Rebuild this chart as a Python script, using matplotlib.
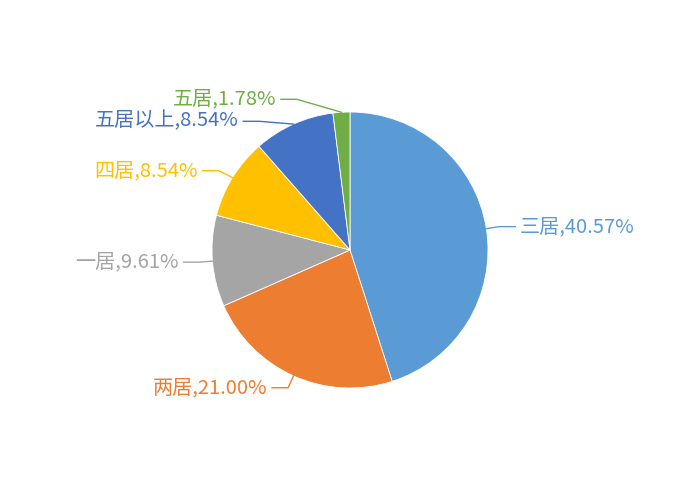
import numpy as np
import matplotlib
matplotlib.use('Agg')
import matplotlib.pyplot as plt

plt.rcParams['font.family'] = ['Noto Sans CJK SC', 'DejaVu Sans']

labels = ['三居', '两居', '一居', '四居', '五居以上', '五居']
values = [40.57, 21.00, 9.61, 8.54, 8.54, 1.78]
colors = ['#5B9BD5', '#ED7D31', '#A5A5A5', '#FFC000', '#4472C4', '#70AD47']

# geometry in pixels (figure is 700x500, axes fill it)
cx, cy = 350, 250
r = 138
len1, len2 = 13, 16
gap = 22

fig = plt.figure(figsize=(7, 5), dpi=100)
ax = fig.add_axes([0, 0, 1, 1])
wedges, _ = ax.pie(values, colors=colors, startangle=90, counterclock=False,
                   center=(cx, cy), radius=r,
                   wedgeprops=dict(edgecolor='white', linewidth=0.6))
ax.set_xlim(0, 700)
ax.set_ylim(0, 500)
ax.set_aspect('equal')
ax.axis('off')

# label layout, roughly like echarts' outside labels
items = []
for w, lab, val, col in zip(wedges, labels, values, colors):
    a = np.deg2rad((w.theta1 + w.theta2) / 2)
    ca, sa = np.cos(a), np.sin(a)
    items.append(dict(text='%s,%.2f%%' % (lab, val), col=col,
                      ex=cx + r * ca, ey=cy + r * sa,
                      bx=cx + (r + len1) * ca, by=cy + (r + len1) * sa,
                      side=1 if ca >= 0 else -1))

rA = r + len1
rB = rA + 10
for side in (1, -1):
    group = sorted([it for it in items if it['side'] == side], key=lambda it: -it['by'])
    shifted = {True: False, False: False}
    for i in range(1, len(group)):
        lim = group[i - 1]['by'] - gap
        if group[i]['by'] > lim:
            group[i]['by'] = lim
            shifted[group[i]['by'] > cy] = True
    for top in (True, False):
        if not shifted[top]:
            continue
        for it in group:
            if (it['by'] > cy) == top:
                dy = abs(it['by'] - cy)
                dx = rA * np.sqrt(max(0.0, 1 - dy * dy / (rB * rB)))
                it['bx'] = cx + side * dx

for it in items:
    s = it['side']
    hx = it['bx'] + s * len2
    ax.plot([it['ex'], it['bx'], hx], [it['ey'], it['by'], it['by']],
            color=it['col'], lw=1, solid_joinstyle='miter')
    ax.text(hx + s * 5, it['by'], it['text'], color=it['col'], fontsize=14.5,
            ha='left' if s > 0 else 'right', va='center')

fig.savefig('out.png', dpi=100, facecolor='white')
